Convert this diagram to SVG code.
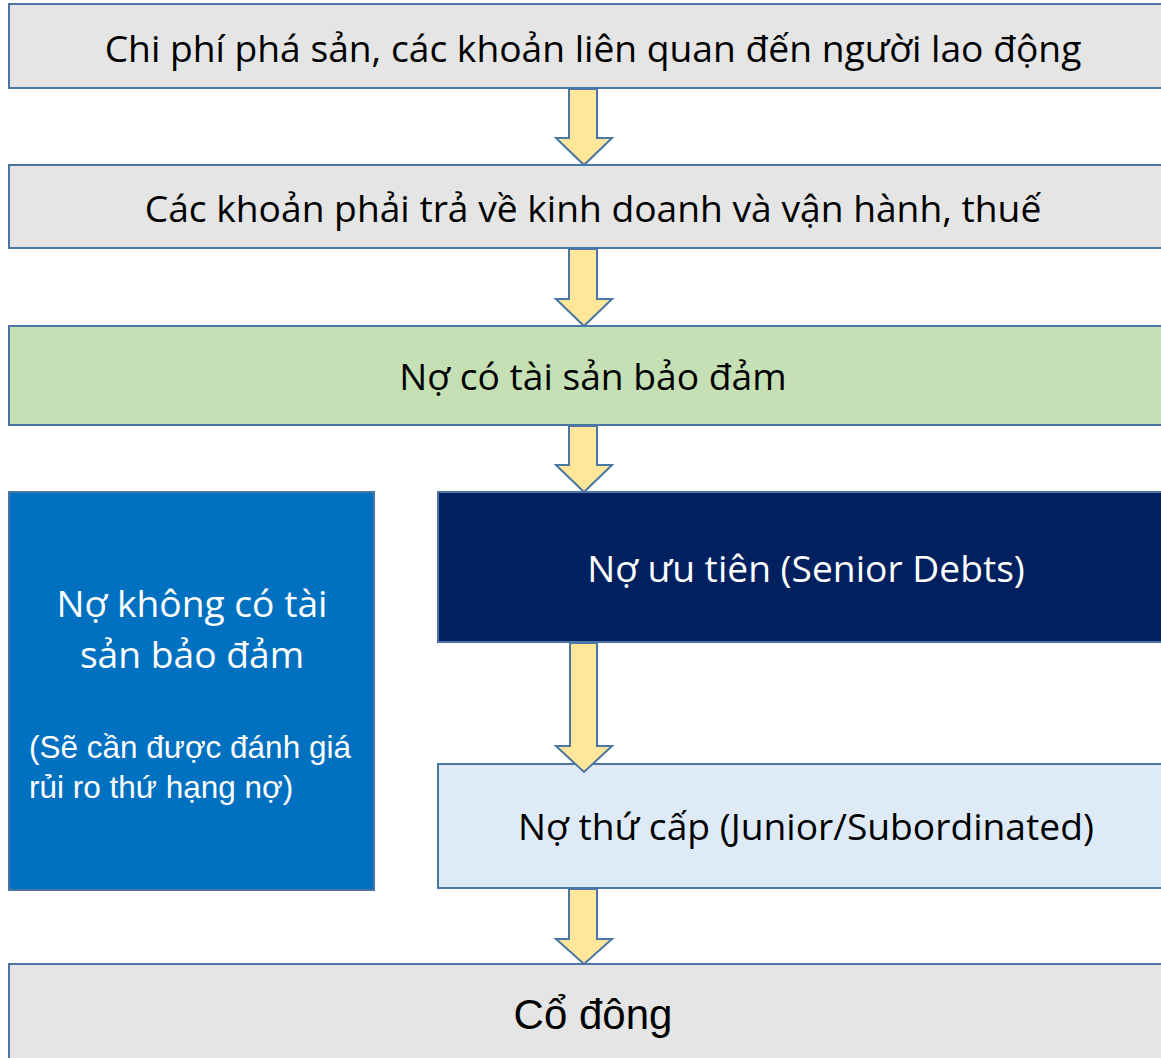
<svg xmlns="http://www.w3.org/2000/svg" width="1161" height="1058" viewBox="0 0 1161 1058">
<style>
.box{stroke:#4a76a6;stroke-width:2}
.arr{fill:#ffe699;stroke:#4a76a6;stroke-width:2;stroke-linejoin:miter}
.t{font-family:"Open Sans","Noto Sans",sans-serif;text-anchor:middle;font-size:37.2px}
.a{font-family:"Liberation Sans",Arial,sans-serif}
</style>
<rect width="1161" height="1058" fill="#ffffff"/>
<g id="n1"><rect class="box" x="9" y="4" width="1170" height="84" fill="#e5e5e5"/>
<text class="t" x="593" y="62" fill="#000">Chi phí phá sản, các khoản liên quan đến người lao động</text></g>
<g id="n2"><rect class="box" x="9" y="165" width="1170" height="83" fill="#e5e5e5"/>
<text class="t" x="593" y="222" fill="#000">Các khoản phải trả về kinh doanh và vận hành, thuế</text></g>
<g id="n3"><rect class="box" x="9" y="326" width="1170" height="99" fill="#c5e0b4"/>
<text class="t" x="593" y="390" fill="#000">Nợ có tài sản bảo đảm</text></g>
<g id="n4"><rect class="box" x="9" y="492" width="365" height="398" fill="#0070c0"/>
<text class="t" x="192" y="617" fill="#fff">Nợ không có tài</text>
<text class="t" x="192" y="668" fill="#fff">sản bảo đảm</text>
<text class="a" x="29" y="758" font-size="31.5" fill="#fff">(Sẽ cần được đánh giá</text>
<text class="a" x="29" y="798" font-size="31.5" fill="#fff">rủi ro thứ hạng nợ)</text></g>
<g id="n5"><rect class="box" x="438" y="492" width="740" height="150" fill="#002060"/>
<text class="t" x="806" y="582" fill="#fff">Nợ ưu tiên (Senior Debts)</text></g>
<g id="n6"><rect class="box" x="438" y="764" width="740" height="124" fill="#deebf7"/>
<text class="t" x="806" y="840" fill="#000">Nợ thứ cấp (Junior/Subordinated)</text></g>
<g id="n7"><rect class="box" x="9" y="964" width="1170" height="100" fill="#e5e5e5"/>
<text class="a" x="593" y="1029" font-size="42" fill="#000" text-anchor="middle">Cổ đông</text></g>
<g id="connectors">
<path class="arr" d="M569,89 L597,89 L597,138 L612,138 L584,165 L556,138 L569,138 Z"/>
<path class="arr" d="M569,249 L597,249 L597,299 L612,299 L584,326 L556,299 L569,299 Z"/>
<path class="arr" d="M569,426 L597,426 L597,465 L612,465 L584,492 L556,465 L569,465 Z"/>
<path class="arr" d="M570,643 L597,643 L597,746 L612,746 L584,772 L556,746 L570,746 Z"/>
<path class="arr" d="M569,889 L597,889 L597,939 L612,939 L584,964 L556,939 L569,939 Z"/>
</g>
</svg>
